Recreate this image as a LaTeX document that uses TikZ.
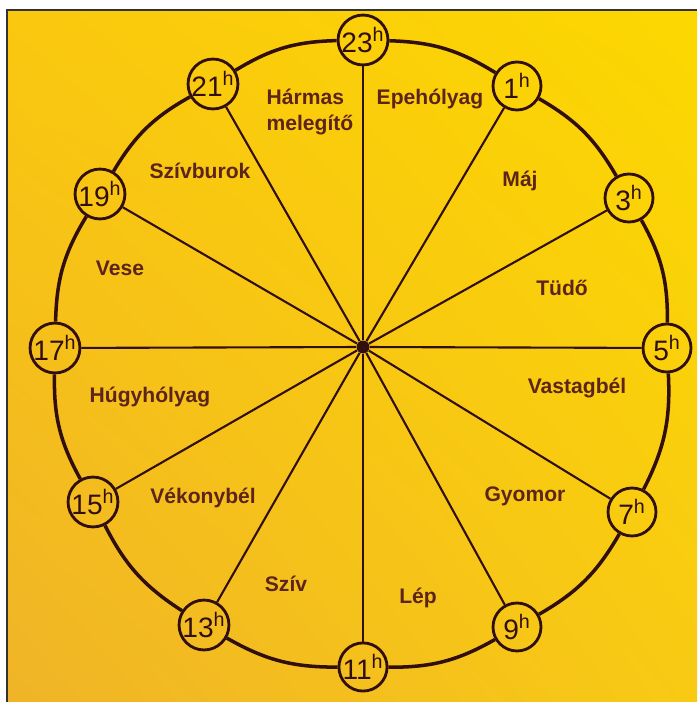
\documentclass[tikz,border=0pt]{standalone}
\usepackage{fontspec}
\setmainfont{Liberation Sans}
\usetikzlibrary{shadings}

\definecolor{rimline}{RGB}{50,15,15}
\definecolor{organtext}{RGB}{92,36,26}
\definecolor{paperUL}{RGB}{250,200,15}
\definecolor{paperUR}{RGB}{252,216,0}
\definecolor{paperLL}{RGB}{240,180,40}
\definecolor{paperLR}{RGB}{248,202,20}

\begin{document}
\begin{tikzpicture}[x=0.02cm, y=-0.02cm,
  hourdot/.style={circle, draw=rimline, line width=1.6pt, minimum size=0.96cm,
    inner sep=0pt, text=rimline, font=\fontsize{16}{16}\selectfont},
  organ/.style={inner sep=0pt, align=left, text=organtext,
    font=\fontsize{12}{15}\selectfont\bfseries},
  spoke/.style={draw=rimline, line width=1.2pt},
  rim/.style={draw=rimline, line width=2pt}
]
\useasboundingbox (0,0) rectangle (697,702);
\fill[white] (0,0) rectangle (697,702);
\shade[upper left=paperUL, upper right=paperUR, lower left=paperLL, lower right=paperLR]
  (7,10) rectangle (697,702);
\draw[black!80, line width=0.9pt] (7,702) -- (7,10) -- (697,10);

% hours round the rim
\node[hourdot] (h23) at (363,40) {23\textsuperscript{h}};
\node[hourdot] (h1) at (517,86) {1\textsuperscript{h}};
\node[hourdot] (h3) at (629,198) {3\textsuperscript{h}};
\node[hourdot] (h5) at (667,348) {5\textsuperscript{h}};
\node[hourdot] (h7) at (632,512) {7\textsuperscript{h}};
\node[hourdot] (h9) at (517,627) {9\textsuperscript{h}};
\node[hourdot] (h11) at (363,667) {11\textsuperscript{h}};
\node[hourdot] (h13) at (204,625) {13\textsuperscript{h}};
\node[hourdot] (h15) at (93,502) {15\textsuperscript{h}};
\node[hourdot] (h17) at (55,348) {17\textsuperscript{h}};
\node[hourdot] (h19) at (100,194) {19\textsuperscript{h}};
\node[hourdot] (h21) at (213,84) {21\textsuperscript{h}};
\node[circle, fill=rimline, inner sep=0pt, minimum size=0.26cm] (hub) at (363,347) {};

\foreach \h in {1,3,...,23}
  \draw[spoke] (hub) -- (h\h);
\foreach \a/\b in {h23/h1,h1/h3,h3/h5,h5/h7,h7/h9,h9/h11,h11/h13,h13/h15,h15/h17,h17/h19,h19/h21,h21/h23}
  \draw[rim] (\a) to[bend left=15] (\b);

% organs in the sectors
\node[organ] (harmas) at (310,112) {Hármas\\melegítő};
\node[organ] (epeholyag) at (430,99) {Epehólyag};
\node[organ] (maj) at (520,181) {Máj};
\node[organ] (tudo) at (562,288) {Tüdő};
\node[organ] (vastagbel) at (577,388) {Vastagbél};
\node[organ] (gyomor) at (525,496) {Gyomor};
\node[organ] (lep) at (418,598) {Lép};
\node[organ] (sziv) at (286,584) {Szív};
\node[organ] (vekonybel) at (203,498) {Vékonybél};
\node[organ] (hugyholyag) at (150,397) {Húgyhólyag};
\node[organ] (vese) at (120,268) {Vese};
\node[organ] (szivburok) at (200,171) {Szívburok};
\end{tikzpicture}
\end{document}
